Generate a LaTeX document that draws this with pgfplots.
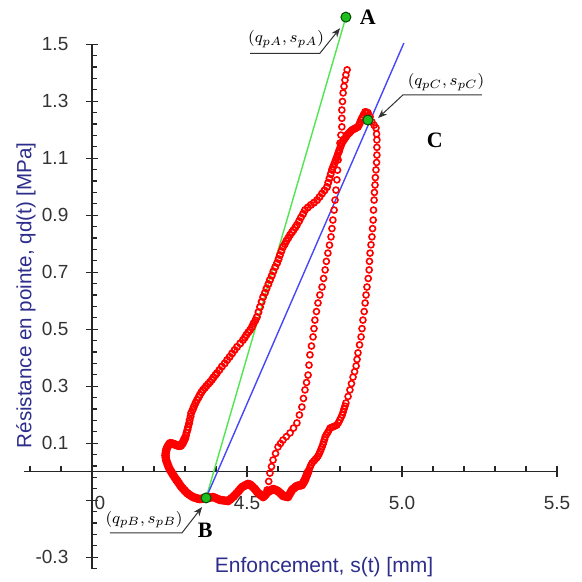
\documentclass[border=0pt]{standalone}
\usepackage{fontspec}
\setmainfont{Liberation Sans}
\newfontfamily\seriffont{Liberation Serif}
\usepackage{pgfplots}
\usepackage{pgfplotstable}
\pgfplotsset{compat=1.18}
\usetikzlibrary{arrows.meta}
\definecolor{lblue}{RGB}{45,45,140}
\definecolor{lgreen}{RGB}{80,230,80}
\definecolor{lineblue}{RGB}{70,70,250}
\definecolor{dotgreen}{RGB}{30,190,30}

% lower-left part of the loop (B -> bump -> start of rise)
\pgfplotstableread{
s q
4.368 -0.092
4.363 -0.093
4.358 -0.094
4.353 -0.095
4.348 -0.096
4.342 -0.095
4.337 -0.093
4.331 -0.091
4.326 -0.089
4.320 -0.085
4.314 -0.081
4.308 -0.076
4.303 -0.071
4.298 -0.065
4.293 -0.059
4.288 -0.053
4.284 -0.047
4.280 -0.040
4.276 -0.034
4.272 -0.028
4.268 -0.022
4.264 -0.015
4.260 -0.008
4.256 -0.001
4.252 0.006
4.248 0.015
4.245 0.023
4.242 0.032
4.239 0.041
4.238 0.049
4.237 0.057
4.238 0.065
4.239 0.073
4.241 0.081
4.244 0.088
4.248 0.095
4.252 0.100
4.257 0.099
4.261 0.098
4.266 0.096
4.271 0.094
4.276 0.092
4.280 0.091
4.284 0.091
4.287 0.092
4.291 0.098
4.294 0.104
4.297 0.111
4.300 0.118
}\leftlow

% rising (loading) branch
\pgfplotstableread{
s q
4.303 0.127
4.305 0.137
4.308 0.147
4.310 0.157
4.313 0.169
4.315 0.181
4.318 0.194
4.320 0.206
4.325 0.218
4.329 0.229
4.334 0.241
4.339 0.252
4.344 0.261
4.348 0.270
4.353 0.279
4.358 0.287
4.364 0.294
4.369 0.301
4.375 0.308
4.381 0.315
4.387 0.323
4.392 0.331
4.398 0.339
4.403 0.346
4.411 0.357
4.419 0.369
4.428 0.380
4.436 0.392
4.444 0.403
4.452 0.415
4.460 0.427
4.468 0.438
4.478 0.450
4.487 0.462
4.493 0.471
4.498 0.480
4.504 0.489
4.510 0.497
4.516 0.508
4.521 0.520
4.527 0.531
4.532 0.543
4.537 0.560
4.542 0.578
4.547 0.596
4.552 0.613
4.558 0.628
4.563 0.643
4.569 0.658
4.574 0.673
4.580 0.688
4.585 0.703
4.591 0.718
4.597 0.732
4.602 0.746
4.606 0.760
4.611 0.774
4.616 0.788
4.622 0.799
4.627 0.810
4.633 0.820
4.639 0.831
4.645 0.840
4.650 0.848
4.656 0.857
4.661 0.866
4.668 0.879
4.674 0.892
4.681 0.905
4.687 0.918
4.696 0.927
4.706 0.936
4.716 0.944
4.726 0.953
4.734 0.964
4.742 0.976
4.750 0.987
4.758 0.999
4.762 1.014
4.766 1.029
4.770 1.044
4.774 1.059
4.778 1.070
4.782 1.081
4.786 1.093
4.790 1.104
4.794 1.117
4.798 1.129
4.802 1.141
4.806 1.153
4.810 1.160
4.814 1.167
4.819 1.174
4.823 1.181
4.827 1.186
4.831 1.190
4.835 1.195
4.839 1.199
4.844 1.202
4.848 1.204
4.853 1.207
4.858 1.210
4.862 1.218
4.865 1.226
4.868 1.234
4.871 1.241
4.876 1.252
4.881 1.262
4.886 1.261
4.890 1.259
}\leftbranch

% unloading branch (peak -> bottom right)
\pgfplotstableread{
s q
4.897 1.245
4.903 1.227
4.910 1.216
4.916 1.206
4.918 1.185
4.919 1.164
4.919 1.138
4.919 1.111
4.918 1.085
4.916 1.059
4.914 1.032
4.913 1.006
4.911 0.980
4.910 0.953
4.908 0.918
4.907 0.883
4.905 0.853
4.903 0.824
4.900 0.796
4.897 0.767
4.895 0.738
4.894 0.708
4.891 0.678
4.887 0.648
4.884 0.620
4.881 0.592
4.878 0.562
4.874 0.532
4.871 0.502
4.868 0.473
4.863 0.445
4.858 0.417
4.855 0.394
4.852 0.371
4.847 0.351
4.842 0.332
4.837 0.309
4.832 0.287
4.826 0.264
4.819 0.241
4.816 0.230
4.813 0.220
4.810 0.209
4.807 0.199
4.803 0.190
4.799 0.181
4.795 0.172
4.790 0.164
4.785 0.161
4.779 0.158
4.774 0.156
4.768 0.153
4.764 0.145
4.760 0.137
4.756 0.130
4.752 0.122
4.750 0.113
4.747 0.104
4.745 0.096
4.742 0.087
4.739 0.079
4.736 0.071
4.733 0.063
4.729 0.055
4.725 0.049
4.720 0.043
4.715 0.037
4.710 0.031
4.706 0.023
4.703 0.015
4.700 0.007
}\rightbranch

% wavy bottom (right -> B)
\pgfplotstableread{
s q
4.697 -0.001
4.694 -0.008
4.692 -0.015
4.689 -0.022
4.687 -0.029
4.684 -0.034
4.682 -0.038
4.679 -0.043
4.677 -0.047
4.673 -0.048
4.669 -0.048
4.665 -0.049
4.661 -0.050
4.657 -0.053
4.653 -0.057
4.649 -0.060
4.645 -0.064
4.642 -0.070
4.639 -0.076
4.635 -0.083
4.632 -0.089
4.628 -0.088
4.624 -0.087
4.620 -0.086
4.616 -0.085
4.612 -0.080
4.608 -0.076
4.604 -0.072
4.600 -0.068
4.596 -0.066
4.592 -0.064
4.588 -0.062
4.584 -0.061
4.580 -0.063
4.576 -0.066
4.572 -0.068
4.568 -0.071
4.564 -0.075
4.560 -0.080
4.556 -0.085
4.552 -0.089
4.548 -0.085
4.544 -0.082
4.540 -0.078
4.536 -0.075
4.532 -0.070
4.528 -0.064
4.524 -0.059
4.519 -0.054
4.515 -0.050
4.511 -0.046
4.507 -0.044
4.503 -0.043
4.499 -0.045
4.494 -0.048
4.489 -0.051
4.484 -0.054
4.478 -0.061
4.473 -0.068
4.467 -0.075
4.461 -0.082
4.456 -0.088
4.450 -0.093
4.445 -0.098
4.439 -0.103
4.433 -0.102
4.426 -0.101
4.420 -0.100
4.413 -0.099
4.408 -0.097
4.402 -0.094
4.396 -0.091
4.390 -0.089
4.385 -0.090
4.379 -0.091
4.373 -0.092
}\bottom

% reloading spike
\pgfplotstableread{
s q
4.565 -0.064
4.570 -0.034
4.574 -0.005
4.579 0.018
4.584 0.041
4.592 0.064
4.600 0.087
4.608 0.099
4.616 0.111
4.627 0.123
4.639 0.136
4.650 0.153
4.661 0.171
4.669 0.199
4.677 0.227
4.682 0.257
4.687 0.287
4.692 0.313
4.697 0.339
4.700 0.374
4.703 0.410
4.708 0.441
4.713 0.473
4.716 0.502
4.719 0.532
4.724 0.562
4.729 0.592
4.735 0.620
4.742 0.648
4.747 0.678
4.752 0.708
4.756 0.738
4.761 0.767
4.766 0.795
4.771 0.824
4.774 0.853
4.777 0.883
4.781 0.918
4.784 0.953
4.787 0.988
4.790 1.024
4.792 1.058
4.794 1.094
4.797 1.124
4.800 1.153
4.803 1.181
4.806 1.210
4.806 1.240
4.806 1.269
4.808 1.299
4.810 1.329
4.813 1.352
4.816 1.374
4.819 1.392
4.823 1.410
}\midbranch

\pgfplotstableread{
s q
4.368 -0.092
4.819 1.595
}\greenline

\pgfplotstableread{
s q
4.368 -0.092
5.006 1.504
}\blueline

\pgfplotstableread{
s q
4.819 1.595
4.368 -0.092
4.890 1.234
}\points

\begin{document}
\begin{tikzpicture}
\begin{axis}[
  name=ax,
  scale only axis,
  width=266.6pt, height=262.2pt,
  xmin=-0.22, xmax=1.5, ymin=-0.34, ymax=1.5,
  axis lines=middle,
  clip=false,
  hide obscured x ticks=false,
  hide obscured y ticks=false,
  axis line style={black!85, line width=0.6pt, -},
  every tick/.style={black!85, line width=0.6pt},
  tick align=center,
  major tick length=5.6pt,
  xtick={0,0.5,1,1.5},
  xticklabels={\phantom{4.}0,4.5,5.0,5.5},
  ytick={-0.3,-0.1,...,1.5},
  yticklabels={-0.3,,0.1,0.3,0.5,0.7,0.9,1.1,1.3,1.5},
  extra x ticks={-0.2,-0.1,0.1,0.2,0.3,0.4,0.6,0.7,0.8,0.9,1.1,1.2,1.3,1.4},
  extra x tick labels={},
  extra y ticks={-0.34,-0.26,-0.22,-0.18,-0.14,-0.06,-0.02,0.02,0.06,0.14,0.18,0.22,0.26,0.34,0.38,0.42,0.46,0.54,0.58,0.62,0.66,0.74,0.78,0.82,0.86,0.94,0.98,1.02,1.06,1.14,1.18,1.22,1.26,1.34,1.38,1.42,1.46},
  extra y tick labels={},
  extra tick style={tick align=inside, major tick length=2.7pt},
  tick label style={font=\fontsize{9.5}{11}\selectfont, text=black!80},
  xticklabel style={anchor=center, yshift=-13pt},
  yticklabel style={anchor=east, xshift=-5.5pt},
]
\addplot[only marks, mark=o, mark size=1.6pt, red, mark options={line width=1.1pt}]
  table[x expr=\thisrow{s}-4, y=q] {\leftlow};
\addplot[only marks, mark=o, mark size=1.6pt, red, mark options={line width=1.1pt}]
  table[x expr=\thisrow{s}-4, y=q] {\bottom};
\addplot[only marks, mark=o, mark size=1.55pt, red, mark options={line width=0.9pt}]
  table[x expr=\thisrow{s}-4, y=q] {\leftbranch};
\addplot[only marks, mark=o, mark size=1.5pt, red, mark options={line width=0.8pt}]
  table[x expr=\thisrow{s}-4, y=q] {\rightbranch};
\addplot[only marks, mark=o, mark size=1.5pt, red, mark options={line width=0.8pt}]
  table[x expr=\thisrow{s}-4, y=q] {\midbranch};
\addplot[lgreen, line width=0.7pt, no marks] table[x expr=\thisrow{s}-4, y=q] {\greenline};
\addplot[lineblue, line width=0.7pt, no marks] table[x expr=\thisrow{s}-4, y=q] {\blueline};
\addplot[only marks, mark=*, mark size=2.5pt, mark options={fill=dotgreen, draw=black!70!green, line width=0.5pt}]
  table[x expr=\thisrow{s}-4, y=q] {\points};

% axis labels
\node[rotate=90, text=lblue, font=\fontsize{10.3}{12}\selectfont] at (axis description cs:0.004,0.521) {Résistance en pointe, qd(t) [MPa]};
\node[text=lblue, font=\fontsize{10.5}{12}\selectfont] at (axis description cs:0.563,0.003) {Enfoncement, s(t) [mm]};

% annotations
\node[font=\seriffont\bfseries\fontsize{11}{12}\selectfont] at (axis cs:0.89,1.595) {A};
\node[font=\fontsize{8.5}{10}\selectfont] at (axis cs:0.626,1.517) {$(q_{pA},s_{pA})$};
\draw[black!80, line width=0.5pt, -{Stealth[length=4.5pt,width=3.5pt]}] (axis cs:0.510,1.468) -- (axis cs:0.735,1.468) -- (axis cs:0.800,1.556);

\node[font=\seriffont\bfseries\fontsize{11}{12}\selectfont] at (axis cs:1.106,1.164) {C};
\node[font=\fontsize{8.5}{10}\selectfont] at (axis cs:1.142,1.366) {$(q_{pC},s_{pC})$};
\draw[black!80, line width=0.5pt, -{Stealth[length=4.5pt,width=3.5pt]}] (axis cs:1.258,1.322) -- (axis cs:1.003,1.322) -- (axis cs:0.923,1.241);

\node[font=\seriffont\bfseries\fontsize{11}{12}\selectfont] at (axis cs:0.365,-0.205) {B};
\node[font=\fontsize{8.5}{10}\selectfont] at (axis cs:0.168,-0.168) {$(q_{pB},s_{pB})$};
\draw[black!80, line width=0.5pt, -{Stealth[length=4.5pt,width=3.5pt]}] (axis cs:0.058,-0.215) -- (axis cs:0.290,-0.215) -- (axis cs:0.355,-0.124);
\end{axis}
\pgfresetboundingbox
\path[use as bounding box] ([shift={(-11.9pt,-6.7pt)}]ax.south west) rectangle ([shift={(12pt,22.1pt)}]ax.north east);
\end{tikzpicture}
\end{document}
